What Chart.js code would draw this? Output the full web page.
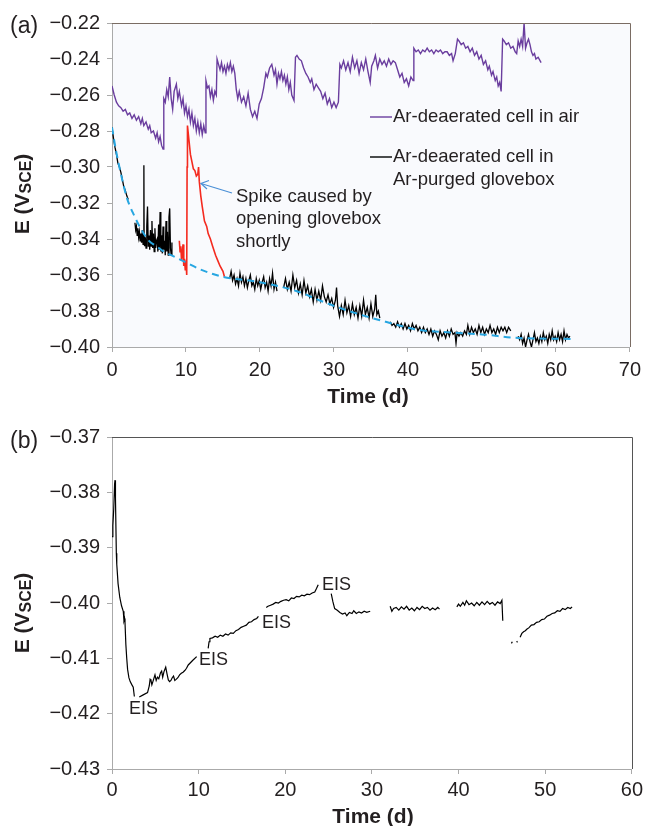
<!DOCTYPE html>
<html>
<head>
<meta charset="utf-8">
<script src="https://cdn.jsdelivr.net/npm/chart.js@4.4.1/dist/chart.umd.min.js"></script>
<style>
  html,body{margin:0;padding:0;background:#fff;}
  #wrap{position:relative;width:647px;height:826px;}
  canvas{position:absolute;left:0;}
</style>
</head>
<body>
<div id="wrap">
  <canvas id="c1" width="647" height="413" style="top:0"></canvas>
  <canvas id="c2" width="647" height="413" style="top:413px"></canvas>
</div>
<script>
// ---------------- Panel (a) data ----------------
const aXTicks = [0, 10, 20, 30, 40, 50, 60, 70];
const aYTicks = [-0.40, -0.38, -0.36, -0.34, -0.32, -0.30, -0.28, -0.26, -0.24, -0.22];

// Ar-deaerated cell in air (purple)
const airT = [0,0.3,0.6,0.9,1.2,1.5,1.8,2.1,2.4,2.7,3.0,3.3,3.6,3.9,4.1,4.3,4.6,4.9,5.1,5.3,5.6,5.9,6.1,6.3,6.5,6.7,6.9,
  7.0,7.2,7.4,7.6,7.8,8.0,8.2,8.4,8.7,8.9,9.1,9.4,9.6,9.8,10.0,10.2,10.4,10.6,10.8,11.0,11.2,11.4,11.6,11.8,12.0,12.2,12.4,12.6,
  12.7,12.9,13.1,13.3,13.5,13.7,13.9,14.1,14.2,14.4,14.6,14.8,15.0,15.2,15.4,15.6,15.8,16.0,16.2,16.4,16.6,16.8,17.0,17.2,17.5,17.8,
  18.1,18.4,18.7,19.0,19.3,19.6,19.9,20.2,20.5,20.8,21.0,21.3,21.6,21.9,22.1,22.3,22.5,22.7,22.9,23.1,23.3,23.5,23.7,23.9,24.1,24.3,24.6,
  24.8,25.0,25.3,25.6,25.9,26.2,26.5,26.8,27.0,27.3,27.6,27.9,28.2,28.5,28.8,29.1,29.4,29.7,30.0,30.3,30.6,
  30.8,31.0,31.3,31.6,31.9,32.2,32.5,32.8,33.1,33.4,33.7,34.0,34.3,34.6,34.9,35.1,35.4,35.6,35.9,36.2,36.5,36.8,37.1,37.4,37.7,38.0,38.3,
  38.6,38.9,39.2,39.5,39.8,40.1,40.4,40.7,40.8,41.1,41.4,41.7,42.0,42.3,42.6,42.9,43.2,43.5,43.8,44.1,44.4,44.7,45.0,45.3,45.6,45.9,46.1,46.4,
  46.7,46.9,47.2,47.5,47.8,48.1,48.4,48.7,49.0,49.3,49.6,49.9,50.2,50.5,50.8,51.0,51.3,51.5,51.8,52.0,52.2,52.4,52.6,
  52.8,53.0,53.3,53.6,53.9,54.2,54.5,54.7,54.9,55.1,55.3,55.5,55.7,55.9,56.1,56.3,56.5,56.7,56.9,57.1,57.3,57.6,58.0];
const airE = [-0.255,-0.260,-0.264,-0.266,-0.267,-0.269,-0.268,-0.271,-0.270,-0.273,-0.271,-0.274,-0.272,-0.276,-0.273,-0.277,-0.275,-0.279,-0.277,-0.281,-0.280,-0.284,-0.281,-0.286,-0.283,-0.288,-0.290,
  -0.262,-0.264,-0.257,-0.261,-0.250,-0.262,-0.268,-0.258,-0.254,-0.262,-0.258,-0.266,-0.262,-0.270,-0.266,-0.272,-0.268,-0.275,-0.270,-0.277,-0.273,-0.280,-0.275,-0.281,-0.276,-0.282,-0.277,-0.281,
  -0.252,-0.256,-0.255,-0.261,-0.257,-0.263,-0.258,-0.260,-0.240,-0.243,-0.246,-0.242,-0.247,-0.244,-0.248,-0.243,-0.246,-0.242,-0.247,-0.244,-0.248,-0.257,-0.262,-0.258,-0.264,-0.261,
  -0.266,-0.259,-0.268,-0.272,-0.269,-0.273,-0.265,-0.262,-0.256,-0.248,-0.250,-0.245,-0.243,-0.249,-0.246,-0.254,-0.248,-0.251,-0.247,-0.252,-0.249,-0.254,-0.250,-0.257,-0.253,-0.260,-0.263,
  -0.239,-0.238,-0.240,-0.241,-0.245,-0.248,-0.250,-0.253,-0.251,-0.257,-0.254,-0.256,-0.258,-0.262,-0.259,-0.265,-0.262,-0.267,-0.264,-0.267,-0.264,
  -0.243,-0.245,-0.241,-0.246,-0.242,-0.247,-0.239,-0.245,-0.241,-0.248,-0.242,-0.246,-0.240,-0.247,-0.253,-0.244,-0.241,-0.238,-0.245,-0.240,-0.243,-0.241,-0.244,-0.240,-0.243,-0.241,-0.242,
  -0.246,-0.250,-0.248,-0.253,-0.251,-0.255,-0.250,-0.252,-0.234,-0.236,-0.235,-0.237,-0.235,-0.236,-0.234,-0.236,-0.235,-0.237,-0.235,-0.236,-0.235,-0.237,-0.236,-0.236,-0.238,-0.237,-0.241,-0.237,
  -0.229,-0.230,-0.232,-0.231,-0.234,-0.233,-0.236,-0.234,-0.238,-0.236,-0.240,-0.238,-0.243,-0.241,-0.246,-0.244,-0.249,-0.247,-0.252,-0.250,-0.255,-0.253,-0.258,
  -0.229,-0.230,-0.232,-0.231,-0.234,-0.233,-0.236,-0.237,-0.230,-0.233,-0.229,-0.233,-0.220,-0.234,-0.231,-0.229,-0.232,-0.236,-0.238,-0.237,-0.240,-0.239,-0.242];

// Ar-deaerated cell in Ar-purged glovebox (black), gaps marked with null
const boxT = [0,0.2,0.4,0.6,0.8,1.0,1.2,1.4,1.6,1.8,2.0,2.2, 2.6,
  3.1,3.2,3.3,3.4,3.5,3.6,3.7,3.8,3.9,4.0,4.1,4.2,4.3,4.32,4.34,4.4,4.5,4.6,4.7,4.8,4.9,5.0,5.1,5.2,5.3,5.4,5.5,5.6,5.7,5.8,5.9,6.0,
  6.1,6.2,6.3,6.4,6.5,6.6,6.7,6.8,6.9,7.0,7.1,7.2,7.3,7.4,7.5,7.6,7.7,7.8,7.9,8.0,8.1, 8.6,
  15.9,16.1,16.3,16.5,16.7,16.9,17.1,17.3,17.5,17.7,17.9,18.1,18.3,18.5,18.7,18.9,19.1,19.3,19.5,19.7,19.9,20.1,20.3,20.5,20.7,20.9,
  21.1,21.3,21.5,21.7,21.9,22.1,22.3, 22.7,
  23.2,23.45,23.7,23.95,24.2,24.45,24.7,24.95,25.2,25.45,25.7,25.95,26.2,26.45,26.7,26.95,27.2,27.45,27.7,27.95,28.2,28.45,28.7,28.95,
  29.2,29.45,29.7,29.95,30.2,30.35,30.5,30.75,31.0,31.25,31.5,31.75,32.0,32.25,32.5,32.75,33.0,33.25,33.5,33.75,34.0,34.25,34.5,34.75,
  35.0,35.25,35.5,35.65,35.8,36.0,36.2, 36.7,
  37.6,37.85,38.1,38.35,38.6,38.85,39.1,39.35,39.6,39.85,40.1,40.35,40.6,40.85,41.1,41.35,41.6,41.85,42.1,42.35,42.6,42.85,43.1,43.35,
  43.6,43.85,44.1,44.35,44.6,44.85,45.1,45.35,45.6,45.85,46.1,46.35,46.5,46.65,46.9,47.15,47.4,47.65,47.9,48.1,48.35,48.6,48.85,49.1,
  49.35,49.6,49.85,50.1,50.35,50.6,50.85,51.1,51.35,51.6,51.85,52.1,52.35,52.6,52.85,53.1,53.35,53.6,53.9, 54.4,
  54.9,55.1,55.3,55.5,55.7,55.9,56.1,56.3,56.5,56.7,56.9,57.1,57.3,57.5,57.7,57.9,58.1,58.3,58.5,58.7,58.9,59.1,59.3,59.5,59.7,59.9,
  60.1,60.3,60.5,60.7,60.9,61.1,61.3,61.5,61.7,61.9];
const boxE = [-0.278,-0.284,-0.289,-0.293,-0.298,-0.300,-0.303,-0.307,-0.311,-0.313,-0.316,-0.318, null,
  -0.331,-0.335,-0.333,-0.338,-0.334,-0.339,-0.336,-0.341,-0.337,-0.342,-0.335,-0.343,-0.340,-0.299,-0.338,-0.344,-0.339,-0.345,-0.333,-0.322,-0.344,-0.338,-0.346,-0.335,-0.344,-0.330,-0.345,-0.337,-0.347,-0.334,-0.345,-0.341,
  -0.340,-0.347,-0.332,-0.346,-0.325,-0.347,-0.338,-0.348,-0.333,-0.346,-0.341,-0.349,-0.330,-0.347,-0.336,-0.349,-0.328,-0.323,-0.345,-0.349,-0.342, null,
  -0.362,-0.358,-0.363,-0.360,-0.365,-0.362,-0.366,-0.359,-0.364,-0.361,-0.366,-0.362,-0.367,-0.363,-0.360,-0.366,-0.364,-0.368,-0.362,-0.366,-0.363,-0.368,-0.364,-0.361,-0.367,-0.364,
  -0.369,-0.362,-0.366,-0.359,-0.368,-0.364,-0.369, null,
  -0.367,-0.362,-0.368,-0.364,-0.369,-0.360,-0.367,-0.363,-0.370,-0.365,-0.371,-0.363,-0.370,-0.366,-0.372,-0.368,-0.375,-0.368,-0.374,-0.369,-0.374,-0.366,-0.372,-0.375,
  -0.371,-0.376,-0.373,-0.378,-0.374,-0.367,-0.377,-0.383,-0.377,-0.382,-0.374,-0.381,-0.377,-0.383,-0.376,-0.382,-0.378,-0.384,-0.377,-0.383,-0.374,-0.382,-0.378,-0.384,
  -0.376,-0.383,-0.379,-0.371,-0.382,-0.380,-0.384, null,
  -0.386,-0.388,-0.387,-0.389,-0.386,-0.389,-0.387,-0.390,-0.387,-0.390,-0.388,-0.391,-0.387,-0.390,-0.388,-0.391,-0.389,-0.392,-0.389,-0.392,-0.390,-0.393,-0.390,-0.394,
  -0.391,-0.393,-0.396,-0.391,-0.394,-0.392,-0.395,-0.391,-0.394,-0.390,-0.393,-0.392,-0.398,-0.392,-0.394,-0.392,-0.394,-0.391,-0.393,-0.388,-0.393,-0.389,-0.392,-0.390,
  -0.393,-0.388,-0.392,-0.389,-0.393,-0.390,-0.392,-0.388,-0.392,-0.390,-0.393,-0.389,-0.392,-0.389,-0.391,-0.389,-0.392,-0.389,-0.391, null,
  -0.394,-0.396,-0.393,-0.398,-0.395,-0.400,-0.396,-0.393,-0.397,-0.400,-0.396,-0.392,-0.397,-0.395,-0.398,-0.394,-0.397,-0.392,-0.396,-0.394,-0.398,-0.393,-0.396,-0.391,-0.396,-0.394,
  -0.397,-0.392,-0.396,-0.393,-0.397,-0.391,-0.396,-0.393,-0.395,-0.394];

// Spike caused by opening glovebox (red)
const spikeT = [9.1,9.2,9.3,9.4,9.5,9.6,9.7,9.8,9.9,10.0,10.1,10.15,10.2,10.4,10.6,10.8,11.0,11.2,11.4,11.6,11.7,11.8,12.0,12.2,12.5,12.8,13.0,13.3,13.6,14.0,14.3,14.6,15.0,15.2];
const spikeE = [-0.341,-0.347,-0.344,-0.352,-0.348,-0.343,-0.355,-0.351,-0.357,-0.352,-0.360,-0.300,-0.277,-0.285,-0.293,-0.297,-0.301,-0.302,-0.305,-0.304,-0.300,-0.308,-0.316,-0.322,-0.330,-0.333,-0.337,-0.340,-0.344,-0.349,-0.352,-0.355,-0.358,-0.361];

// Fitted trend (dashed cyan)
const fitT = [0,0.5,1,1.5,2,3,4,5,6,7,8,10,12,15,20,25,28,32,37,41.5,46,50,55,62];
const fitE = [-0.278,-0.290,-0.300,-0.309,-0.317,-0.327,-0.335,-0.341,-0.344,-0.347,-0.349,-0.353,-0.357,-0.361,-0.364,-0.369,-0.374,-0.380,-0.386,-0.3905,-0.392,-0.393,-0.395,-0.3955];

// ---------------- Panel (b) data ----------------
const bXTicks = [0, 10, 20, 30, 40, 50, 60];
const bYTicks = [-0.43, -0.42, -0.41, -0.40, -0.39, -0.38, -0.37];
const bT = [0,0.1,0.2,0.3,0.35,0.4,0.5,0.55,0.7,0.9,1.1,1.3,1.38,1.45,1.5,1.6,1.7,1.8,1.95,2.1,2.3,2.45,2.58, 2.9,
  3.15,3.6,4.1,4.3,4.4,4.5,4.6,4.8,4.96,5.1,5.25,5.4,5.6,5.73,5.85,6.0,6.2,6.35,6.5,6.65,6.8,6.95,7.1,7.25,7.4,7.6,7.8,8.0,8.2,8.4,8.6,8.8,9.3,9.77, 10.4,
  11.1,11.2,11.3,11.6,11.9,12.2,12.5,12.8,13.1,13.4,13.7,14.0,14.3,14.6,14.9,15.2,15.5,15.8,16.1,16.4,16.7,16.9, 17.3,
  17.8,18.0,18.3,18.6,18.9,19.2,19.5,19.8,20.1,20.4,20.7,21.0,21.3,21.6,21.9,22.2,22.5,22.8,23.1,23.4,23.6,23.8, 24.4,
  25.3,25.5,25.7,26.0,26.3,26.6,26.9,27.1,27.4,27.7,27.9,28.2,28.5,28.8,29.1,29.4,29.8, 31.0,
  32.1,32.3,32.5,32.8,33.1,33.4,33.7,34.0,34.3,34.6,34.9,35.2,35.5,35.8,36.1,36.4,36.7,37.0,37.3,37.6,37.8, 38.8,
  39.8,40.0,40.2,40.5,40.7,40.9,41.2,41.5,41.8,42.1,42.4,42.7,43.0,43.3,43.6,43.9,44.2,44.5,44.8,45.0,45.1, 45.6,
  46.1,46.2, 46.5, 46.7,46.8, 46.95,
  47.1,47.3,47.5,47.7,47.9,48.1,48.4,48.7,49.0,49.3,49.6,49.9,50.2,50.5,50.8,51.1,51.4,51.7,52.0,52.3,52.6,52.9,53.1];
const bE = [-0.3880,-0.3860,-0.3830,-0.3785,-0.3778,-0.3810,-0.3910,-0.3930,-0.3965,-0.3990,-0.4005,-0.4015,-0.4032,-0.4028,-0.4035,-0.4075,-0.4100,-0.4120,-0.4135,-0.4142,-0.4148,-0.4152,-0.4169, null,
  -0.4170,-0.4166,-0.4162,-0.4150,-0.4138,-0.4140,-0.4148,-0.4138,-0.4130,-0.4140,-0.4134,-0.4137,-0.4126,-0.4123,-0.4134,-0.4124,-0.4116,-0.4128,-0.4139,-0.4142,-0.4140,-0.4135,-0.4132,-0.4140,-0.4138,-0.4135,-0.4130,-0.4127,-0.4125,-0.4122,-0.4118,-0.4112,-0.4104,-0.4097, null,
  -0.4082,-0.4070,-0.4064,-0.4063,-0.4060,-0.4062,-0.4058,-0.4060,-0.4056,-0.4058,-0.4054,-0.4055,-0.4050,-0.4048,-0.4044,-0.4042,-0.4040,-0.4035,-0.4034,-0.4030,-0.4028,-0.4024, null,
  -0.4008,-0.4006,-0.4004,-0.4002,-0.3999,-0.4000,-0.3997,-0.3995,-0.3994,-0.3996,-0.3991,-0.3992,-0.3988,-0.3989,-0.3986,-0.3987,-0.3984,-0.3985,-0.3982,-0.3980,-0.3974,-0.3967, null,
  -0.3983,-0.3998,-0.4010,-0.4013,-0.4017,-0.4020,-0.4018,-0.4023,-0.4017,-0.4019,-0.4014,-0.4019,-0.4016,-0.4018,-0.4015,-0.4017,-0.4015, null,
  -0.4006,-0.4015,-0.4010,-0.4008,-0.4013,-0.4007,-0.4011,-0.4006,-0.4013,-0.4009,-0.4014,-0.4008,-0.4012,-0.4006,-0.4010,-0.4008,-0.4013,-0.4009,-0.4012,-0.4008,-0.4011, null,
  -0.4007,-0.4002,-0.4006,-0.3999,-0.4004,-0.3996,-0.4003,-0.4000,-0.4005,-0.3999,-0.4004,-0.3998,-0.4003,-0.3997,-0.4002,-0.3999,-0.4004,-0.3998,-0.4001,-0.3995,-0.4032, null,
  -0.4073,-0.4070, null, -0.4069,-0.4071, null,
  -0.4062,-0.4055,-0.4052,-0.4050,-0.4047,-0.4045,-0.4040,-0.4039,-0.4035,-0.4034,-0.4030,-0.4029,-0.4024,-0.4022,-0.4019,-0.4018,-0.4014,-0.4015,-0.4010,-0.4012,-0.4008,-0.4010,-0.4007];

// ---------------- helpers ----------------
const FONT = '"Liberation Sans", Arial, Helvetica, sans-serif';
const TXT = '#231f20';
const pts = (T, E) => T.map((t, i) => ({ x: t, y: E[i] }));
const fmtE = v => (v < 0 ? '\u2212' : '') + Math.abs(v).toFixed(2);

function yTitle(ctx, cx, cy) {
  ctx.save();
  ctx.translate(cx, cy);
  ctx.rotate(-Math.PI / 2);
  ctx.fillStyle = TXT;
  ctx.textBaseline = 'middle';
  ctx.textAlign = 'left';
  const big = 'bold 21px ' + FONT, small = 'bold 16px ' + FONT;
  const parts = [['E (V', big, 0], ['SCE', small, 4], [')', big, 0]];
  let w = 0;
  parts.forEach(p => { ctx.font = p[1]; w += ctx.measureText(p[0]).width; });
  let x = -w / 2;
  parts.forEach(p => { ctx.font = p[1]; ctx.fillText(p[0], x, p[2]); x += ctx.measureText(p[0]).width; });
  ctx.restore();
}
function text(ctx, s, x, y, font, align) {
  ctx.save();
  ctx.font = font; ctx.fillStyle = TXT; ctx.textBaseline = 'middle'; ctx.textAlign = align || 'left';
  ctx.fillText(s, x, y);
  ctx.restore();
}
function frame(ctx, a, col) {
  ctx.save();
  ctx.strokeStyle = col; ctx.lineWidth = 1;
  ctx.beginPath();
  ctx.moveTo(a.left, Math.round(a.top) + 0.5);
  ctx.lineTo(Math.round(a.right) + 0.5, Math.round(a.top) + 0.5);
  ctx.lineTo(Math.round(a.right) + 0.5, a.bottom);
  ctx.stroke();
  ctx.restore();
}

function makeScales(xTicks, yTicks, xh, xpad) {
  const axisCol = '#aaaaaa';
  return {
    x: {
      type: 'linear', min: xTicks[0], max: xTicks[xTicks.length - 1],
      afterBuildTicks: s => { s.ticks = xTicks.map(v => ({ value: v })); },
      ticks: { autoSkip: false, maxRotation: 0, color: TXT, font: { family: FONT, size: 20 }, padding: xpad },
      grid: { drawOnChartArea: false, drawTicks: true, tickLength: 5, tickColor: axisCol, color: axisCol },
      border: { display: true, color: axisCol, width: 1 },
      afterFit: s => { s.height = xh; }
    },
    y: {
      type: 'linear', min: yTicks[0], max: yTicks[yTicks.length - 1],
      afterBuildTicks: s => { s.ticks = yTicks.map(v => ({ value: v })); },
      ticks: { autoSkip: false, color: TXT, font: { family: FONT, size: 20 }, padding: 7, callback: fmtE },
      grid: { drawOnChartArea: false, drawTicks: true, tickLength: 5, tickColor: axisCol, color: axisCol },
      border: { display: true, color: axisCol, width: 1 },
      afterFit: s => { s.width = 112; }
    }
  };
}

const common = {
  responsive: false, animation: false, devicePixelRatio: 1,
  plugins: { legend: { display: false }, tooltip: { enabled: false } },
  elements: { point: { radius: 0 } }
};

// ---------------- Chart (a) ----------------
new Chart(document.getElementById('c1'), {
  type: 'line',
  data: {
    datasets: [
      { label: 'fit', data: pts(fitT, fitE), borderColor: '#27a6e1', borderWidth: 2, borderDash: [7, 5], cubicInterpolationMode: 'monotone' },
      { label: 'Ar-deaerated cell in air', data: pts(airT, airE), borderColor: '#6a3d9e', borderWidth: 1.4 },
      { label: 'spike', data: pts(spikeT, spikeE), borderColor: '#f42a1f', borderWidth: 1.6 },
      { label: 'Ar-deaerated cell in Ar-purged glovebox', data: pts(boxT, boxE), borderColor: '#000000', borderWidth: 1.3 }
    ]
  },
  options: Object.assign({}, common, {
    layout: { padding: { left: 0, right: 15, top: 23, bottom: 0 } },
    scales: makeScales(aXTicks, aYTicks, 66, 6)
  }),
  plugins: [{
    id: 'deco',
    beforeDraw(chart) {
      const { ctx, chartArea: a } = chart;
      ctx.save(); ctx.fillStyle = '#f9fafd'; ctx.fillRect(a.left, a.top, a.right - a.left, a.bottom - a.top); ctx.restore();
    },
    afterDraw(chart) {
      const { ctx, chartArea: a } = chart;
      frame(ctx, a, '#7a6c63');
      // legend
      ctx.save(); ctx.lineWidth = 1.4;
      ctx.strokeStyle = '#6a3d9e'; ctx.beginPath(); ctx.moveTo(370, 117); ctx.lineTo(392, 117); ctx.stroke();
      ctx.strokeStyle = '#000'; ctx.beginPath(); ctx.moveTo(370, 157); ctx.lineTo(392, 157); ctx.stroke();
      ctx.restore();
      const f = '18.5px ' + FONT;
      text(ctx, 'Ar-deaerated cell in air', 393, 117, f);
      text(ctx, 'Ar-deaerated cell in', 393, 157, f);
      text(ctx, 'Ar-purged glovebox', 393, 180, f);
      // annotation
      text(ctx, 'Spike caused by', 236, 197, f);
      text(ctx, 'opening glovebox', 236, 219, f);
      text(ctx, 'shortly', 236, 242, f);
      ctx.save(); ctx.strokeStyle = '#4a8fd6'; ctx.lineWidth = 1.2;
      ctx.beginPath(); ctx.moveTo(232, 193); ctx.lineTo(201, 183.5); ctx.stroke();
      ctx.beginPath(); ctx.moveTo(209, 180.5); ctx.lineTo(201, 183.5); ctx.lineTo(207, 189); ctx.stroke();
      ctx.restore();
      // titles
      text(ctx, '(a)', 10, 27, '23px ' + FONT);
      text(ctx, 'Time (d)', 368, 397, 'bold 21px ' + FONT, 'center');
      yTitle(ctx, 23, 194);
    }
  }]
});

// ---------------- Chart (b) ----------------
new Chart(document.getElementById('c2'), {
  type: 'line',
  data: {
    datasets: [
      { label: 'E', data: pts(bT, bE), borderColor: '#000000', borderWidth: 1.2 }
    ]
  },
  options: Object.assign({}, common, {
    layout: { padding: { left: 0, right: 15, top: 24, bottom: 0 } },
    scales: makeScales(bXTicks, bYTicks, 57, 4)
  }),
  plugins: [{
    id: 'deco2',
    afterDraw(chart) {
      const { ctx, chartArea: a } = chart;
      frame(ctx, a, '#555555');
      const f = '18px ' + FONT;
      text(ctx, 'EIS', 129, 296, f);
      text(ctx, 'EIS', 199, 247, f);
      text(ctx, 'EIS', 262, 210, f);
      text(ctx, 'EIS', 322, 172, f);
      text(ctx, '(b)', 10, 29, '23px ' + FONT);
      text(ctx, 'Time (d)', 373, 404, 'bold 21px ' + FONT, 'center');
      yTitle(ctx, 23, 200);
    }
  }]
});
</script>
</body>
</html>
